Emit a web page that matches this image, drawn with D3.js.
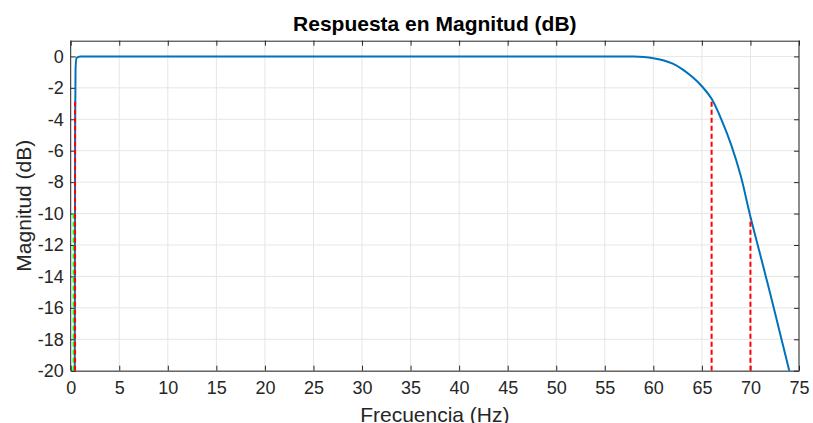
<!DOCTYPE html>
<html>
<head>
  <meta charset="utf-8">
  <script src="https://d3js.org/d3.v7.min.js"></script>
  <style>
    body { margin: 0; background: #fff; }
    text { font-family: "Liberation Sans", Arial, Helvetica, sans-serif; }
  </style>
</head>
<body>
<script>
// curve (Hz, dB)
var freqHz = [0.40, 0.42, 0.44, 0.46, 0.50, 0.60, 1, 10, 30, 50, 56, 58, 59, 60, 61, 62, 63, 64, 65, 66, 67, 68, 69, 70, 71, 72, 73, 74, 74.5];
var magDb  = [-30, -18, -9, -4, -0.8, -0.1, 0, 0, 0, 0, 0, -0.01, -0.04, -0.11, -0.24, -0.46, -0.82, -1.3, -1.9, -2.7, -4.0, -5.6, -7.6, -10.2, -12.6, -15.0, -17.5, -20.0, -21.2];

// dashed markers
var redFreq = [0.45, 66, 70];
var redDb   = [-2.8, -2.75, -10.3];
var greenFreq = [0.3];
var greenDb   = [-10];

var xTicks = d3.range(0, 76, 5);
var yTicks = d3.range(-20, 1, 2);

var W = 813, H = 423;
var pL = 70.7, pR = 799, pT = 40.7, pB = 370.7;

var svg = d3.select("body").append("svg").attr("width", W).attr("height", H);

var x = d3.scaleLinear().domain([0, 75]).range([pL, pR]);
var y = d3.scaleLinear().domain([-20, 1]).range([pB, pT]);

svg.append("clipPath").attr("id", "clip")
  .append("rect").attr("x", pL).attr("y", pT).attr("width", pR - pL).attr("height", pB - pT);

// grid
var grid = svg.append("g");
grid.selectAll(".gx").data(xTicks).enter().append("line")
  .attr("x1", d => x(d)).attr("x2", d => x(d)).attr("y1", pT).attr("y2", pB)
  .attr("stroke", "#e6e6e6").attr("stroke-width", 1);
grid.selectAll(".gy").data(yTicks).enter().append("line")
  .attr("x1", pL).attr("x2", pR).attr("y1", d => y(d)).attr("y2", d => y(d))
  .attr("stroke", "#e6e6e6").attr("stroke-width", 1);

// axes with inward ticks on all sides, plain hyphen minus like MATLAB
var axisCol = "#262626";
var fmt = d => String(d);
var xb = svg.append("g").attr("transform", "translate(0," + pB + ")")
  .call(d3.axisBottom(x).tickValues(xTicks).tickFormat(fmt).tickSizeInner(-5).tickSizeOuter(0).tickPadding(11));
var xt = svg.append("g").attr("transform", "translate(0," + pT + ")")
  .call(d3.axisTop(x).tickValues(xTicks).tickSizeInner(-5).tickSizeOuter(0).tickFormat(""));
var yl = svg.append("g").attr("transform", "translate(" + pL + ",0)")
  .call(d3.axisLeft(y).tickValues(yTicks).tickFormat(fmt).tickSizeInner(-5).tickSizeOuter(0).tickPadding(7));
var yr = svg.append("g").attr("transform", "translate(" + pR + ",0)")
  .call(d3.axisRight(y).tickValues(yTicks).tickSizeInner(-5).tickSizeOuter(0).tickFormat(""));

[xb, xt, yl, yr].forEach(function(g) {
  g.select(".domain").attr("stroke", axisCol).attr("stroke-width", 1);
  g.selectAll(".tick line").attr("stroke", axisCol).attr("stroke-width", 1);
  g.selectAll(".tick text").attr("fill", axisCol).style("font-size", "18px")
    .style("font-family", '"Liberation Sans", Arial, sans-serif');
});
yl.select(".domain").attr("d", "M0," + pT + "V" + pB);
yr.select(".domain").attr("d", "M0," + pT + "V" + pB);

var plot = svg.append("g").attr("clip-path", "url(#clip)");

var line = d3.line().curve(d3.curveMonotoneX).x(d => x(d[0])).y(d => y(d[1]));
plot.append("path")
  .datum(freqHz.map((f, i) => [f, magDb[i]]))
  .attr("d", line).attr("fill", "none")
  .attr("stroke", "#0072BD").attr("stroke-width", 2);

plot.selectAll(".green").data(greenFreq).enter().append("line")
  .attr("x1", d => x(d)).attr("x2", d => x(d))
  .attr("y1", y(-20)).attr("y2", (d, i) => y(greenDb[i]))
  .attr("stroke", "#00FF00").attr("stroke-width", 2).attr("stroke-dasharray", "5,3");

plot.selectAll(".red").data(redFreq).enter().append("line")
  .attr("x1", d => x(d)).attr("x2", d => x(d))
  .attr("y1", y(-20)).attr("y2", (d, i) => y(redDb[i]))
  .attr("stroke", "#FF0000").attr("stroke-width", 2).attr("stroke-dasharray", "5,3");

// titles
svg.append("text").attr("x", (pL + pR) / 2).attr("y", 31)
  .attr("text-anchor", "middle").style("font-size", "21px").style("font-weight", "bold")
  .attr("fill", "#000").text("Respuesta en Magnitud (dB)");

svg.append("text").attr("x", (pL + pR) / 2).attr("y", 422)
  .attr("text-anchor", "middle").style("font-size", "21px")
  .attr("fill", axisCol).text("Frecuencia (Hz)");

svg.append("text")
  .attr("transform", "translate(31," + ((pT + pB) / 2) + ") rotate(-90)")
  .attr("text-anchor", "middle").style("font-size", "21px")
  .attr("fill", axisCol).text("Magnitud (dB)");
</script>
</body>
</html>
